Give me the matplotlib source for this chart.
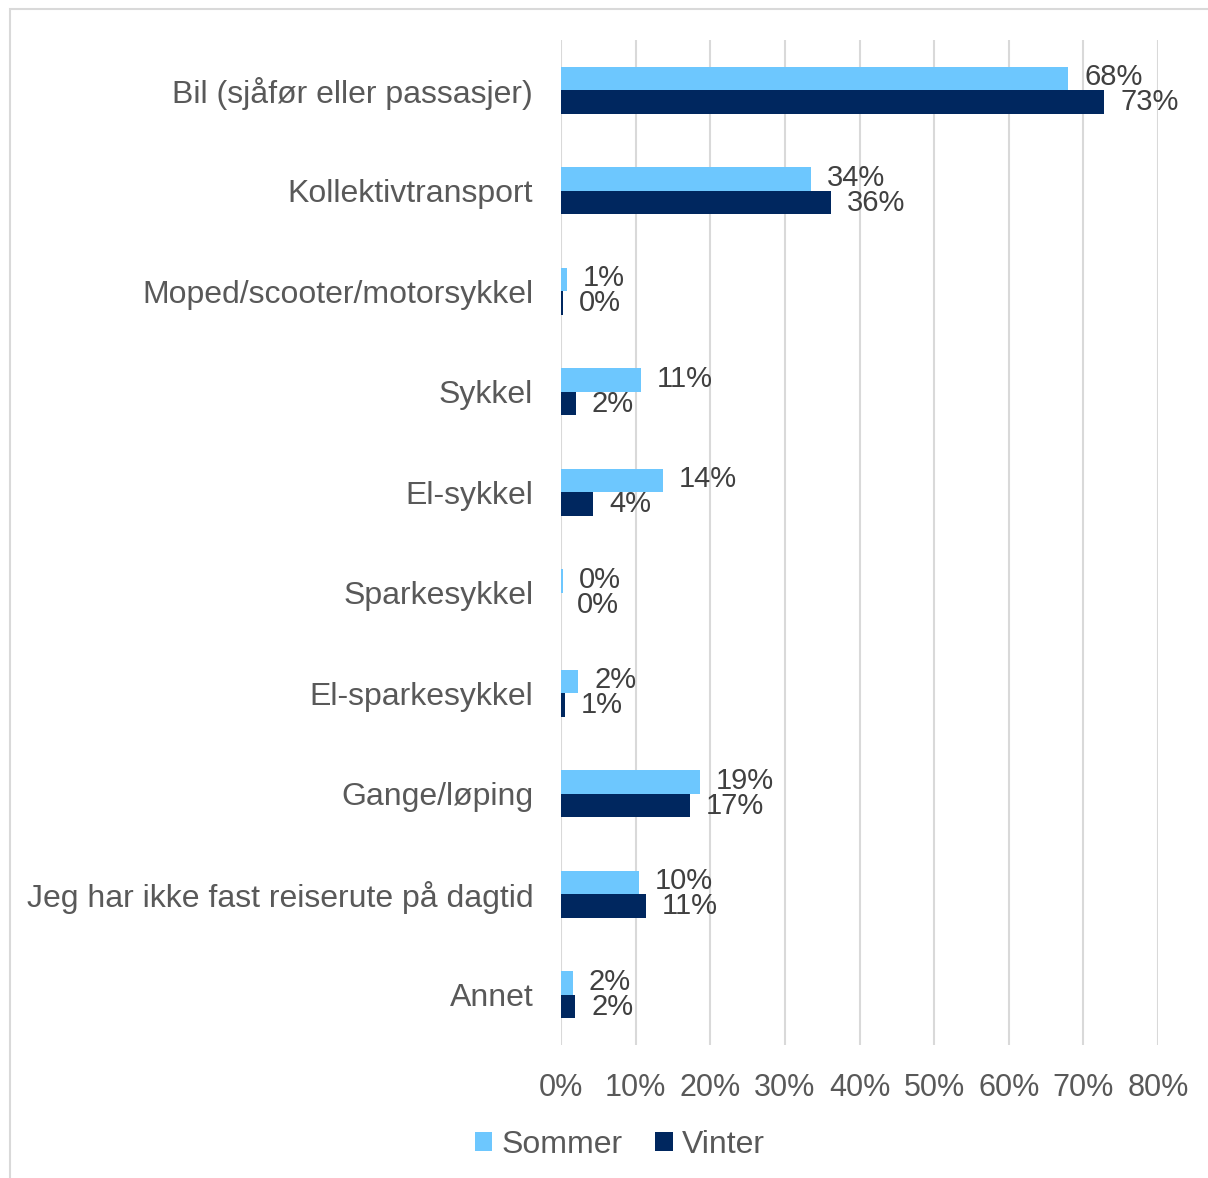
import matplotlib
matplotlib.use("Agg")
import matplotlib.pyplot as plt
from matplotlib.patches import Rectangle, Patch
import numpy as np

categories = ["Bil (sjåfør eller passasjer)", "Kollektivtransport",
              "Moped/scooter/motorsykkel", "Sykkel", "El-sykkel",
              "Sparkesykkel", "El-sparkesykkel", "Gange/løping",
              "Jeg har ikke fast reiserute på dagtid", "Annet"]
sommer = [68.0, 33.5, 0.8, 10.7, 13.7, 0.3, 2.3, 18.6, 10.4, 1.6]
vinter = [72.8, 36.2, 0.3, 2.0, 4.3, 0.0, 0.5, 17.3, 11.4, 1.9]
sommer_labels = ["68%", "34%", "1%", "11%", "14%", "0%", "2%", "19%", "10%", "2%"]
vinter_labels = ["73%", "36%", "0%", "2%", "4%", "0%", "1%", "17%", "11%", "2%"]
xticks = [0, 10, 20, 30, 40, 50, 60, 70, 80]
xtick_labels = ["0%", "10%", "20%", "30%", "40%", "50%", "60%", "70%", "80%"]

c_sommer = "#6DC7FE"
c_vinter = "#00275F"
grid_c = "#D9D9D9"
txt_c = "#595959"
lab_c = "#404040"

plt.rcParams['font.family'] = ['Liberation Sans', 'DejaVu Sans']

W, H = 1208, 1178
fig = plt.figure(figsize=(W / 100, H / 100), dpi=100)
ax = fig.add_axes([561 / W, 1 - 1045 / H, (1158 - 561) / W, (1045 - 40) / H])

y = np.arange(len(categories))
h = 0.234
ax.barh(y - h / 2, sommer, height=h, color=c_sommer, label="Sommer", zorder=3)
ax.barh(y + h / 2, vinter, height=h, color=c_vinter, label="Vinter", zorder=3)

for i in range(len(categories)):
    ax.annotate(sommer_labels[i], xy=(sommer[i], y[i] - h / 2), xytext=(11.5, 1),
                textcoords="offset points", va="center", ha="left",
                fontsize=21, color=lab_c)
    ax.annotate(vinter_labels[i], xy=(vinter[i], y[i] + h / 2), xytext=(11.5, 0),
                textcoords="offset points", va="center", ha="left",
                fontsize=21, color=lab_c)

ax.set_xlim(0, 80)
ax.set_ylim(len(categories) - 0.5, -0.5)
ax.set_xticks(xticks)
ax.set_xticklabels(xtick_labels, fontsize=22, color=txt_c)
ax.set_yticks(y)
ax.set_yticklabels(categories, fontsize=23, color=txt_c)
ax.tick_params(axis="both", length=0)
ax.tick_params(axis="x", pad=20)
ax.tick_params(axis="y", pad=20)
for s in ax.spines.values():
    s.set_visible(False)
ax.xaxis.grid(True, color=grid_c, linewidth=1.5, zorder=0)
ax.set_axisbelow(True)

handles = [Patch(facecolor=c_sommer, label="Sommer"),
           Patch(facecolor=c_vinter, label="Vinter")]
fig.legend(handles=handles, loc="center", bbox_to_anchor=(620 / W, 1 - 1145 / H),
           ncol=2, frameon=False, fontsize=23, labelcolor=txt_c,
           handlelength=0.55, handleheight=0.55, handletextpad=0.3,
           columnspacing=1.0)

fig.patches.append(Rectangle((9.5 / W, -0.1), 1.2, 1 - 9.5 / H + 0.1,
                             transform=fig.transFigure, fill=False,
                             edgecolor=grid_c, linewidth=1.5))

fig.savefig("out.png", dpi=100)
